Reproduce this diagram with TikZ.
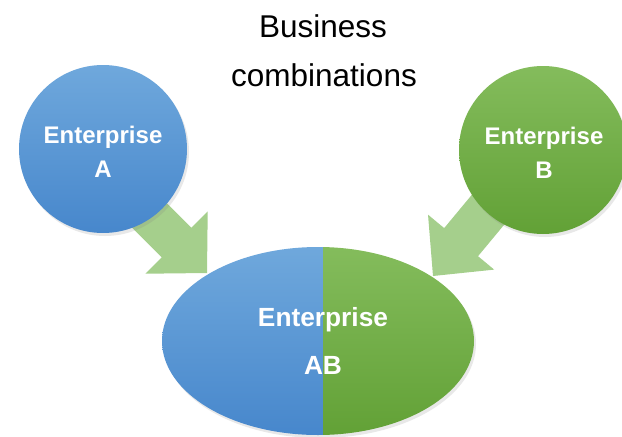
\documentclass[tikz,border=0pt]{standalone}
\usepackage{fontspec}
\setmainfont{Liberation Sans}
\usetikzlibrary{shadows,shapes.geometric}
\definecolor{bluetop}{HTML}{6FA8DC}
\definecolor{bluebot}{HTML}{4787CC}
\definecolor{greentop}{HTML}{84BC5C}
\definecolor{greenbot}{HTML}{62A136}
\definecolor{arrowgreen}{HTML}{A5CF8C}
\begin{document}
\begin{tikzpicture}[x=1pt,y=-1pt,
  softshadow/.style={drop shadow={opacity=0.18, shadow xshift=2pt, shadow yshift=-3pt}},
  bubble/.style={circle, minimum size=168pt, inner sep=0pt, softshadow},
  bluefill/.style={top color=bluetop, bottom color=bluebot},
  greenfill/.style={top color=greentop, bottom color=greenbot},
  lbl/.style={text=white, font=\bfseries\fontsize{24}{24}\selectfont, anchor=base, inner sep=0pt},
  biglbl/.style={text=white, font=\bfseries\fontsize{26.3}{26.3}\selectfont, anchor=base, inner sep=0pt},
  titletext/.style={font=\fontsize{31.5}{31.5}\selectfont, anchor=base, inner sep=0pt},
  blockarrow/.style={fill=arrowgreen}]
\useasboundingbox (0,0) rectangle (622,437);
% title
\node[titletext] (t1) at (323,37) {Business};
\node[titletext] (t2) at (324,86) {combinations};
% block arrows
\coordinate (tipA) at (207,273);
\coordinate (tipB) at (433,276);
\fill[blockarrow, shift={(tipA)}, rotate=-45]
  (0,0) -- (-43,44) -- (-43,21) -- (-135,21) -- (-135,-21) -- (-43,-21) -- (-43,-44) -- cycle;
\fill[blockarrow, shift={(tipB)}, rotate=-129.7]
  (0,0) -- (-44,43) -- (-44,22) -- (-135,22) -- (-135,-22) -- (-44,-22) -- (-44,-43) -- cycle;
% merged enterprise
\node[ellipse, minimum width=312pt, minimum height=188pt, inner sep=0pt, softshadow] (AB) at (318,341) {};
\begin{scope}
  \clip (150,240) rectangle (323,440);
  \shade[bluefill] (AB.center) ellipse [x radius=156, y radius=94];
\end{scope}
\begin{scope}
  \clip (323,240) rectangle (480,440);
  \shade[greenfill] (AB.center) ellipse [x radius=156, y radius=94];
\end{scope}
% enterprises
\node[bubble, bluefill] (A) at (103,149) {};
\node[bubble, greenfill] (B) at (543,150) {};
% labels
\node[lbl] (A1) at (103,143) {Enterprise};
\node[lbl] (A2) at (103,177) {A};
\node[lbl] (B1) at (544,144) {Enterprise};
\node[lbl] (B2) at (544,178) {B};
\node[biglbl] (AB1) at (323,326) {Enterprise};
\node[biglbl] (AB2) at (323,374) {AB};
\end{tikzpicture}
\end{document}
